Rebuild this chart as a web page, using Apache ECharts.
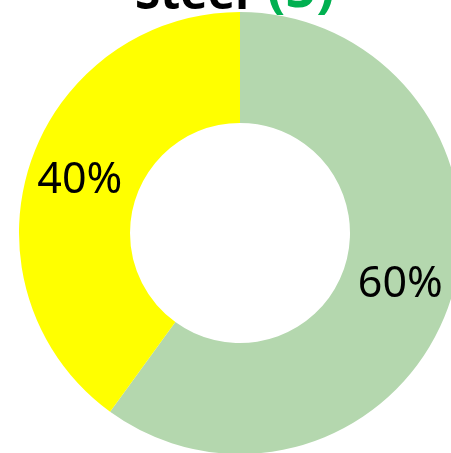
<!DOCTYPE html>
<html>
<head>
<meta charset="utf-8">
<script src="https://cdn.jsdelivr.net/npm/echarts@6/dist/echarts.min.js"></script>
<style>html,body{margin:0;padding:0;background:#fff}#c{width:451px;height:453px}</style>
</head>
<body>
<div id="c"></div>
<script>
const categories = ['Compliant', 'Non-compliant'];
const values = [60, 40];
const colors = ['#B4D7AE', '#FFFF00'];
const titleMain = 'Steel';
const titleCount = '(5)';

const chart = echarts.init(document.getElementById('c'), null, {renderer: 'canvas'});
chart.setOption({
  animation: false,
  title: {
    text: '{a|' + titleMain + '}{b|' + titleCount + '}',
    left: 135,
    top: -41,
    padding: 0,
    textStyle: {
      rich: {
        a: {fontFamily: 'Noto Sans', fontWeight: 'bold', fontSize: 46, color: '#000', verticalAlign: 'bottom', lineHeight: 60},
        b: {fontFamily: 'Noto Sans', fontWeight: 'bold', fontSize: 54, color: '#00B050', verticalAlign: 'bottom', lineHeight: 60, padding: [0, 0, 0, 18]}
      }
    }
  },
  series: [{
    type: 'pie',
    center: [240, 233],
    radius: [110, 221],
    startAngle: 90,
    clockwise: true,
    avoidLabelOverlap: false,
    label: {
      show: true,
      position: 'inside',
      formatter: '{d}%',
      fontFamily: 'Noto Sans',
      fontSize: 43,
      color: '#000'
    },
    labelLine: {show: false},
    itemStyle: {borderWidth: 0},
    emphasis: {disabled: true},
    data: categories.map((n, i) => ({name: n, value: values[i], itemStyle: {color: colors[i]}}))
  }]
});
</script>
</body>
</html>
